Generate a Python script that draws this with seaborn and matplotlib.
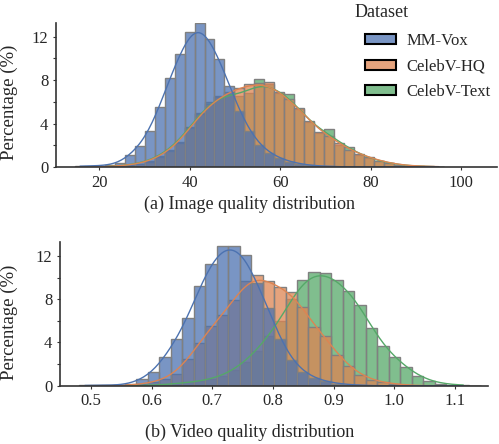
import numpy as np
import pandas as pd
import matplotlib
matplotlib.use("Agg")
import matplotlib.pyplot as plt
from matplotlib.patches import Patch
from matplotlib.ticker import MultipleLocator
import seaborn as sns

# datasets / hue order
datasets = ["MM-Vox", "CelebV-HQ", "CelebV-Text"]

# (a) image quality: bins start at 14.7, width 2.2, percent per bin
img_bin_start = 14.7
img_bin_width = 2.2
img_mmvox = [0.1, 0.1, 0.1, 0.2, 0.35, 1.1, 1.9, 3.3, 5.5, 8.1, 10.3, 12.3, 13.1, 11.7,
             9.9, 7.4, 5.1, 3.25, 2.0, 1.3, 0.8, 0.5, 0.3, 0.15, 0.1, 0.05, 0.03, 0,
             0, 0, 0, 0, 0, 0, 0, 0, 0]
img_hq = [0, 0, 0, 0.05, 0.1, 0.18, 0.28, 0.5, 0.95, 1.5, 2.2, 3.6, 4.9, 5.9, 6.5,
          7.0, 7.4, 7.7, 7.8, 7.9, 7.0, 6.3, 5.5, 4.3, 3.3, 2.9, 2.2, 1.6, 1.2, 0.9,
          0.6, 0.37, 0.2, 0.12, 0.08, 0.05, 0.03]
img_text = [0, 0, 0, 0.05, 0.1, 0.2, 0.3, 0.55, 1.0, 1.6, 2.3, 3.7, 5.0, 6.0, 6.6,
            6.8, 6.6, 6.9, 8.2, 7.7, 6.9, 6.75, 5.4, 4.2, 3.2, 3.5, 2.0, 1.9, 1.1,
            0.85, 0.55, 0.35, 0.2, 0.1, 0.06, 0.04, 0]

# (b) video quality: bins start at 0.4805, width 0.0189
vid_bin_start = 0.4805
vid_bin_width = 0.0189
vid_mmvox = [0.03, 0.03, 0.05, 0.05, 0.2, 0.6, 1.3, 2.7, 4.3, 6.3, 9.2, 11.3, 12.9,
             12.9, 12.1, 9.5, 7.2, 4.3, 2.4, 1.3, 0.7, 0.4, 0.2, 0.1, 0.05, 0, 0,
             0, 0, 0, 0, 0, 0, 0, 0]
vid_hq = [0, 0, 0, 0.02, 0.05, 0.15, 0.3, 0.6, 1.1, 2.4, 3.9, 5.4, 6.4, 7.8, 9.5,
          10.1, 9.5, 9.0, 8.5, 7.2, 5.3, 4.5, 2.8, 1.75, 1.0, 0.5, 0.3, 0.15, 0.07,
          0, 0, 0, 0, 0, 0]
vid_text = [0, 0, 0, 0, 0, 0.02, 0.05, 0.1, 0.2, 0.3, 0.4, 0.6, 0.9, 1.4, 2.2, 3.2,
            4.5, 5.9, 7.9, 9.7, 10.4, 10.3, 9.7, 8.7, 7.4, 5.3, 3.6, 2.6, 1.7, 0.9,
            0.45, 0.2, 0.1, 0.05, 0]


def make_frame(start, width, series):
    rows = []
    for name, vals in zip(datasets, series):
        for k, v in enumerate(vals):
            if v > 0:
                rows.append((start + width * (k + 0.5), v, name))
    return pd.DataFrame(rows, columns=["score", "pct", "Dataset"])


def draw_panel(ax, start, width, series, nbins, xlim, ylim, xticks):
    df = make_frame(start, width, series)
    sns.histplot(data=df, x="score", weights="pct", hue="Dataset", hue_order=datasets,
                 binwidth=width, binrange=(start, start + width * nbins),
                 stat="percent", common_norm=False, kde=True,
                 kde_kws={"bw_adjust": 0.45}, line_kws={"linewidth": 1.0},
                 palette="deep", alpha=0.75, edgecolor="0.5", linewidth=1.0,
                 legend=False, ax=ax)
    ax.set_xlim(*xlim)
    ax.set_ylim(*ylim)
    ax.set_xticks(xticks)
    ax.yaxis.set_major_locator(MultipleLocator(4))
    ax.yaxis.set_minor_locator(MultipleLocator(2))
    ax.set_xlabel("")
    ax.set_ylabel("Percentage (%)", fontsize=13.5)
    ax.tick_params(axis="both", which="both", length=2.5, width=0.8, labelsize=12,
                   color="0.2", pad=3)
    for s in ["left", "bottom"]:
        ax.spines[s].set_color("0.2")
        ax.spines[s].set_linewidth(1.2)
    sns.despine(ax=ax)


sns.set_style("ticks")
plt.rcParams["font.family"] = ["Liberation Serif", "DejaVu Serif"]
plt.rcParams["mathtext.fontset"] = "stix"

fig = plt.figure(figsize=(4.99, 4.44), dpi=100)
ax1 = fig.add_axes([0.1122, 0.6239, 0.884, 0.324])
ax2 = fig.add_axes([0.1202, 0.1313, 0.858, 0.3237])

draw_panel(ax1, img_bin_start, img_bin_width, [img_mmvox, img_hq, img_text], 37,
           (10.5, 107.9), (0, 13.26), [20, 40, 60, 80, 100])
draw_panel(ax2, vid_bin_start, vid_bin_width, [vid_mmvox, vid_hq, vid_text], 35,
           (0.449, 1.1545), (0, 13.3), [0.5, 0.6, 0.7, 0.8, 0.9, 1.0, 1.1])
ax1.yaxis.set_label_coords(-0.086, 0.45)
ax2.yaxis.set_label_coords(-0.098, 0.44)

fig.text(0.5, 0.54, "(a) Image quality distribution", ha="center", va="center", fontsize=13)
fig.text(0.5, 0.027, "(b) Video quality distribution", ha="center", va="center", fontsize=13)

# legend: title as separate text so it can sit left of the swatches
colors = sns.color_palette("deep", 3)
handles = [Patch(facecolor=(*c, 0.75), edgecolor="black", linewidth=1.5) for c in colors]
fig.legend(handles, datasets, loc="upper left", bbox_to_anchor=(0.731, 0.925),
           frameon=False, fontsize=12, handlelength=1.9, handleheight=0.55,
           handletextpad=0.6, labelspacing=0.55, borderpad=0.0, borderaxespad=0.0)
fig.text(0.711, 0.972, "Dataset", ha="left", va="center", fontsize=13)

fig.savefig("out.png", dpi=100)
